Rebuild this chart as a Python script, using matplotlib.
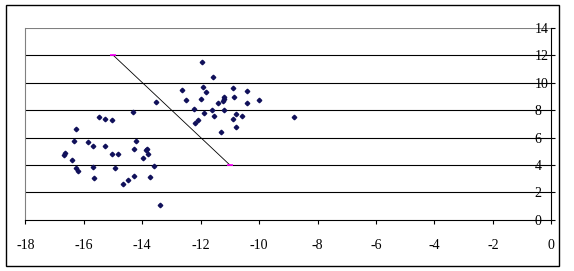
import matplotlib
matplotlib.use("Agg")
import matplotlib.pyplot as plt
from matplotlib.patches import Rectangle

matplotlib.rcParams["axes.unicode_minus"] = False

# scatter points
pts_x = [-11.97, -11.58, -12.64, -11.93, -10.89, -10.42, -11.82, -12.50, -11.98,
         -11.21, -10.86, -10.02, -11.21, -11.23, -11.41, -10.42, -13.53, -12.23,
         -11.61, -11.19, -11.88, -11.55, -10.79, -10.60, -10.91, -12.08, -12.19,
         -10.79, -11.30, -8.80, -14.33, -15.48, -15.26, -15.03, -16.26, -16.33,
         -15.86, -15.69, -15.26, -14.20, -14.29, -13.84, -13.86, -13.79, -13.98,
         -15.03, -14.82, -16.64, -16.68, -16.41, -15.67, -16.28, -16.21, -14.93,
         -13.60, -14.29, -13.74, -15.64, -14.49, -14.65, -13.40]
pts_y = [11.50, 10.38, 9.42, 9.69, 9.60, 9.38, 9.28, 8.72, 8.83,
         8.98, 8.98, 8.76, 8.82, 8.62, 8.48, 8.50, 8.58, 8.10,
         8.03, 8.03, 7.75, 7.54, 7.70, 7.55, 7.37, 7.24, 7.02,
         6.74, 6.43, 7.48, 7.82, 7.48, 7.37, 7.24, 6.61, 5.77,
         5.66, 5.41, 5.41, 5.73, 5.18, 5.20, 5.10, 4.80, 4.52,
         4.80, 4.83, 4.86, 4.72, 4.38, 3.87, 3.80, 3.54, 3.75,
         3.96, 3.22, 3.15, 3.07, 2.92, 2.60, 1.10]

# the straight line with its two end points
line_x = [-15, -11]
line_y = [12, 4]

x_ticks = list(range(-18, 1, 2))
y_ticks = list(range(0, 15, 2))

fig = plt.figure(figsize=(5.74, 2.71), dpi=100)
fig.patch.set_facecolor("white")
ax = fig.add_axes([0.0441, 0.1882, 0.9164, 0.7103])

fnt = "Liberation Serif"

for yv in y_ticks[1:-1]:
    ax.axhline(yv, color="black", lw=0.8, zorder=1)
ax.axhline(14, color="#808080", lw=0.8, zorder=1)

ax.plot(line_x, line_y, color="black", lw=0.6, zorder=2)
ax.plot(line_x, line_y, ls="none", marker="_", ms=5, mew=1.2,
        color="#ff00ff", zorder=3)
ax.plot(pts_x, pts_y, ls="none", marker="D", ms=2.3,
        color="#10105a", zorder=4)

ax.set_xlim(-18, 0)
ax.set_ylim(0, 14)
ax.set_xticks(x_ticks)
ax.set_yticks(y_ticks)
ax.set_xticklabels([str(v) for v in x_ticks], fontfamily=fnt, fontsize=10)
ax.set_yticklabels([str(v) for v in y_ticks], fontfamily=fnt, fontsize=10,
                   ha="left")

ax.yaxis.tick_right()
ax.tick_params(axis="y", direction="out", length=3, width=0.8, pad=-15.0)
ax.tick_params(axis="x", direction="out", length=3, width=0.8, pad=11)

ax.spines["top"].set_visible(False)
ax.spines["left"].set_color("#808080")
ax.spines["left"].set_linewidth(0.8)
ax.spines["right"].set_linewidth(0.8)
ax.spines["bottom"].set_linewidth(0.8)

fig.patches.append(Rectangle((0.0096, 0.0185), 0.9644, 0.963, fill=False,
                             edgecolor="black", lw=1.0,
                             transform=fig.transFigure, figure=fig))

fig.savefig("out.png", dpi=100)
